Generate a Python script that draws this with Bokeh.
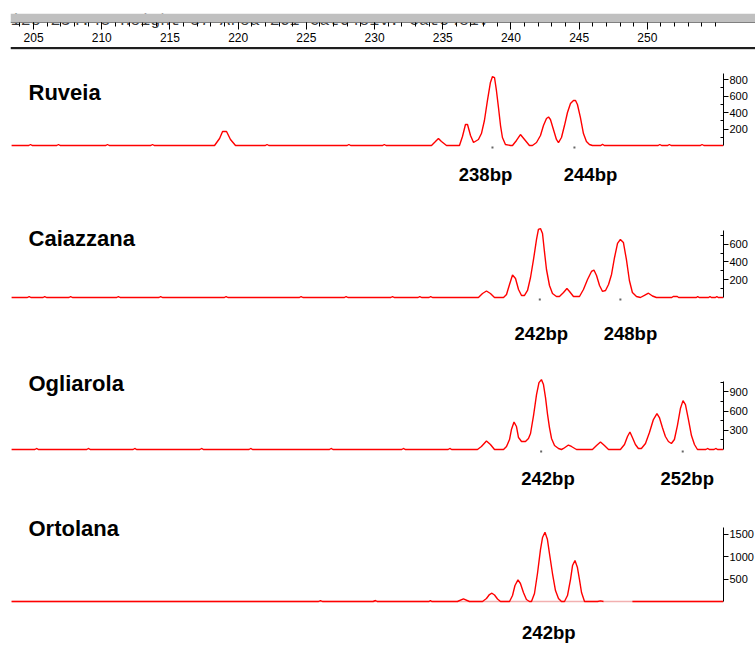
import numpy as np
from bokeh.plotting import figure
from bokeh.models import Range1d, LinearAxis, FixedTicker, Label, Span, BoxAnnotation
from bokeh.layouts import column
from bokeh.embed import file_html
from bokeh.resources import INLINE
from bokeh.core.properties import value

# ---------------------------------------------------------------- data
# fragment size (bp) and signal (RFU) of each electropherogram trace
ruveia_bp = [203.39, 204.65, 204.78, 204.90, 206.70, 206.83, 206.95, 210.30, 210.42, 210.55,
             213.60, 213.72, 213.85, 218.27, 218.64, 218.86, 219.15, 219.44, 219.81,
             222.00, 222.12, 222.25, 228.00, 228.12, 228.25, 230.60, 230.72, 230.85,
             234.18, 234.47, 234.69, 234.91, 235.28,
             236.23, 236.45, 236.67, 236.82, 237.04, 237.26,
             237.62, 237.84, 238.06, 238.28, 238.50, 238.65, 238.80, 238.94, 239.09, 239.24,
             239.38, 239.60, 239.97,
             240.12, 240.41, 240.70, 241.00, 241.36,
             241.58, 241.88, 242.17, 242.39, 242.61, 242.76, 242.90, 243.12, 243.34, 243.49,
             243.71, 243.93, 244.15, 244.37, 244.59, 244.74, 244.88, 245.10, 245.32, 245.54,
             245.76, 245.98,
             246.60, 246.72, 246.85, 250.80, 250.92, 251.05, 251.50, 251.62, 251.75,
             253.90, 254.02, 254.15, 255.59]
ruveia_rfu = [0, 0, 12, 0, 0, 12, 0, 0, 12, 0,
              0, 12, 0, 0, 85, 170, 170, 73, 0,
              0, 12, 0, 0, 12, 0, 0, 12, 0,
              0, 48, 85, 48, 0,
              0, 109, 255, 255, 121, 36,
              73, 145, 303, 545, 764, 836, 824, 667, 461, 242,
              97, 12, 0,
              0, 61, 133, 73, 0,
              0, 36, 121, 242, 327, 345, 315, 194, 73, 36,
              97, 242, 400, 509, 545, 545, 497, 339, 145, 48,
              12, 0,
              0, 15, 0, 0, 12, 0, 0, 12, 0,
              0, 12, 0, 0]

caiazzana_bp = [203.39, 204.55, 204.68, 204.80, 205.70, 205.82, 205.95, 207.60, 207.72, 207.85,
                211.10, 211.22, 211.35, 214.20, 214.32, 214.45, 219.00, 219.12, 219.25,
                224.50, 224.62, 224.75, 227.80, 227.92, 228.05, 231.20, 231.32, 231.45,
                233.20, 233.32, 233.45, 234.00, 234.12, 234.25,
                237.62, 237.92, 238.21, 238.50, 238.80,
                239.46, 239.68, 239.90, 240.12, 240.34, 240.56, 240.78,
                241.00, 241.22, 241.44, 241.66, 241.88, 242.02, 242.17, 242.32, 242.46, 242.61,
                242.83, 243.05, 243.34,
                243.56, 243.86, 244.11, 244.30, 244.59,
                245.03, 245.32, 245.62, 245.91, 246.09, 246.28, 246.50, 246.72,
                246.94, 247.16, 247.38, 247.60, 247.82, 248.03, 248.25, 248.47, 248.69, 248.91,
                249.21, 249.50, 249.79, 250.09, 250.38, 250.67,
                251.80, 251.90, 252.20, 252.30, 253.60, 253.70, 253.80,
                254.50, 254.60, 254.70, 255.00, 255.10, 255.20, 255.59]
caiazzana_rfu = [0, 0, 11, 0, 0, 11, 0, 0, 11, 0,
                 0, 11, 0, 0, 11, 0, 0, 11, 0,
                 0, 11, 0, 0, 11, 0, 0, 11, 0,
                 0, 11, 0, 0, 11, 0,
                 0, 45, 73, 45, 0,
                 0, 34, 146, 253, 214, 90, 23,
                 23, 79, 225, 428, 653, 765, 776, 720, 518, 315,
                 135, 45, 11,
                 11, 56, 101, 68, 11,
                 11, 90, 203, 293, 309, 248, 135, 68,
                 79, 146, 259, 450, 608, 653, 619, 428, 191, 56,
                 11, 0, 23, 48, 17, 0,
                 0, 11, 11, 0, 0, 11, 0,
                 0, 11, 0, 0, 11, 0, 0]

ogliarola_bp = [203.39, 205.10, 205.22, 205.35, 208.90, 209.02, 209.15, 212.30, 212.42, 212.55,
                217.20, 217.32, 217.45, 220.80, 220.92, 221.05, 226.70, 226.82, 226.95,
                232.00, 232.12, 232.25, 235.40, 235.52, 235.65,
                237.55, 237.84, 238.21, 238.50, 238.80,
                239.46, 239.68, 239.90, 240.04, 240.23, 240.41, 240.56, 240.78, 241.07, 241.29,
                241.44, 241.66, 241.88, 242.06, 242.24, 242.39, 242.54, 242.68, 242.83, 242.98,
                243.20, 243.49, 243.71,
                243.86, 244.22, 244.44, 244.81,
                245.98, 246.28, 246.57, 246.86, 247.16,
                248.03, 248.33, 248.55, 248.73, 248.91, 249.13, 249.35,
                249.57, 249.87, 250.16, 250.45, 250.71, 250.89, 251.11, 251.33, 251.55, 251.77,
                251.99, 252.21, 252.43, 252.62, 252.80, 253.02, 253.24, 253.46, 253.68,
                254.30, 254.42, 254.55, 254.90, 255.02, 255.15, 255.59]
ogliarola_rfu = [0, 0, 16, 0, 0, 16, 0, 0, 16, 0,
                 0, 16, 0, 0, 16, 0, 0, 16, 0,
                 0, 16, 0, 0, 16, 0,
                 0, 47, 133, 78, 0,
                 0, 47, 156, 312, 429, 359, 187, 125, 125, 172,
                 250, 530, 858, 1045, 1092, 1014, 811, 562, 343, 172,
                 62, 16, 0,
                 16, 70, 47, 0,
                 0, 62, 117, 62, 0,
                 0, 78, 203, 273, 187, 78, 16,
                 16, 94, 265, 468, 562, 499, 343, 203, 125, 94,
                 156, 374, 640, 764, 702, 468, 218, 78, 0,
                 0, 16, 0, 0, 16, 0, 0]

ortolana_bp = [203.39, 225.90, 226.04, 226.18, 229.90, 230.07, 230.20, 234.00, 234.10, 234.20,
               236.08, 236.52, 236.96,
               237.92, 238.21, 238.43, 238.61, 238.80, 239.02, 239.24,
               239.90, 240.12, 240.30, 240.52, 240.70, 240.92, 241.14, 241.36,
               241.51, 241.73, 241.95, 242.17, 242.32, 242.50, 242.68, 242.83, 243.05, 243.27,
               243.49, 243.71,
               243.93, 244.15, 244.37, 244.52, 244.70, 244.88, 245.03, 245.18, 245.40,
               246.35, 246.57, 246.79, np.nan, 248.91, 255.59]
ortolana_rfu = [0, 0, 22, 0, 0, 22, 0, 0, 22, 0,
                0, 60, 0,
                0, 67, 155, 184, 144, 56, 0,
                0, 133, 355, 482, 400, 200, 44, 0,
                0, 178, 622, 1154, 1421, 1538, 1376, 1066, 622, 244,
                67, 0,
                0, 133, 488, 799, 910, 755, 488, 200, 0,
                0, 15, 0, np.nan, 0, 0]

# called alleles (bp) per cultivar and their size labels
ruveia_alleles = [238.65, 244.66]
caiazzana_alleles = [242.12, 248.03]
ogliarola_alleles = [242.22, 252.60]
ortolana_alleles = [242.50]
ruveia_labels = ["238bp", "244bp"]
caiazzana_labels = ["242bp", "248bp"]
ogliarola_labels = ["242bp", "252bp"]
ortolana_labels = ["242bp"]

# RFU axis ticks per panel
ruveia_ticks = [200, 400, 600, 800]
caiazzana_ticks = [200, 400, 600]
ogliarola_ticks = [300, 600, 900]
ortolana_ticks = [500, 1000, 1500]

# size ruler ticks (bp)
ruler_major = list(range(205, 255, 5))
ruler_minor = list(range(203, 256))
header_text = "Size 234.45   Height 37   Area 261  Cat6481v:  Cat6481v"

# ---------------------------------------------------------------- style
FONT = "Liberation Sans"
RED = "#ff0000"
X_LEFT, X_RIGHT_PANEL, X_RIGHT_RULER = 203.31, 255.59, 257.93
BASE_FROM_TOP = 95  # px from the top of each panel to its baseline


def make_panel(name, bp, rfu, px_per_rfu, frame_h, axis_top, ticks, minor,
               alleles, labels, label_x, name_base, label_base, faint_base=False):
    below = frame_h - BASE_FROM_TOP
    p = figure(frame_width=713, frame_height=frame_h,
               x_range=Range1d(X_LEFT, X_RIGHT_PANEL),
               y_range=Range1d(-below / px_per_rfu, BASE_FROM_TOP / px_per_rfu),
               x_axis_type=None, y_axis_type=None, toolbar_location=None,
               output_backend="svg", min_border_left=10, min_border_right=32,
               min_border_top=0, min_border_bottom=0)
    p.outline_line_color = None
    p.background_fill_color = "white"
    p.border_fill_color = "white"

    if faint_base:
        # pale stretch of the baseline where the signal was not recorded
        p.line([bp[0], bp[-1]], [0, 0], line_color="#f2b0b0", line_width=1.5)
    p.line(np.array(bp, dtype=float), np.array(rfu, dtype=float),
           line_color=RED, line_width=1.4)

    if name != "Ortolana":
        p.scatter(alleles, [-2.0 / px_per_rfu] * len(alleles), marker="square",
                  size=2, fill_color="#666666", line_color=None)

    ax = LinearAxis(bounds=(0, axis_top),
                    ticker=FixedTicker(ticks=ticks, minor_ticks=minor),
                    major_tick_in=0, major_tick_out=5,
                    minor_tick_in=3, minor_tick_out=0,
                    axis_line_color="black", major_tick_line_color="black",
                    minor_tick_line_color="black",
                    major_label_standoff=1,
                    major_label_text_font=FONT,
                    major_label_text_font_size="11px",
                    major_label_text_color="black")
    p.add_layout(ax, "right")

    p.add_layout(Label(x=204.63, y=name_base, x_units="data", y_units="screen",
                       text=name, text_font=FONT, text_font_size="22px",
                       text_font_style="bold", text_color="black",
                       text_align="left", text_baseline="alphabetic"))
    for lx, txt in zip(label_x, labels):
        p.add_layout(Label(x=lx, y=label_base, x_units="data", y_units="screen",
                           text=txt, text_font=FONT, text_font_size="18.5px",
                           text_font_style="bold", text_color="black",
                           text_align="center", text_baseline="alphabetic"))
    return p


# ---------------------------------------------------------------- size ruler
ruler = figure(frame_width=745, frame_height=37,
               x_range=Range1d(X_LEFT, X_RIGHT_RULER), y_range=Range1d(37, 0),
               x_axis_type=None, y_axis_type=None, toolbar_location=None,
               output_backend="svg", min_border_left=10, min_border_right=0,
               min_border_top=13, min_border_bottom=0)
ruler.outline_line_color = None
ruler.add_layout(BoxAnnotation(top=0, bottom=8.5, fill_color="#c0c0c0",
                               fill_alpha=1, line_color=None))
ruler.text(x=[202.60], y=[7.2], text=[header_text],
           text_font=value("Liberation Mono"), text_font_size="16.6px",
           text_color="#383838", text_baseline="alphabetic", text_align="left")
ruler_axis = LinearAxis(fixed_location=9,
                        ticker=FixedTicker(ticks=ruler_major, minor_ticks=ruler_minor),
                        axis_line_color="#808080",
                        major_tick_in=0, major_tick_out=7,
                        minor_tick_in=0, minor_tick_out=4,
                        major_tick_line_color="black", minor_tick_line_color="black",
                        major_label_standoff=3,
                        major_label_text_font=FONT,
                        major_label_text_font_size="12px",
                        major_label_text_color="black")
ruler.add_layout(ruler_axis, "below")
ruler.add_layout(Span(location=34.5, dimension="width", line_color="#1e1e1e", line_width=2))
ruler.add_layout(Span(location=36.5, dimension="width", line_color="#a8a8a8", line_width=1))

# ---------------------------------------------------------------- panels
p1 = make_panel("Ruveia", ruveia_bp, ruveia_rfu, 0.0825, 152, 870,
                ruveia_ticks, [100, 300, 500, 700],
                ruveia_alleles, ruveia_labels, [238.14, 245.84], 110, 28)
p2 = make_panel("Caiazzana", caiazzana_bp, caiazzana_rfu, 0.0889, 152, 757,
                caiazzana_ticks, [100, 300, 500, 700],
                caiazzana_alleles, caiazzana_labels, [242.23, 248.77], 116, 21)
p3 = make_panel("Ogliarola", ogliarola_bp, ogliarola_rfu, 0.064, 152, 1056,
                ogliarola_ticks, [150, 450, 750, 1050],
                ogliarola_alleles, ogliarola_labels, [242.72, 252.93], 123, 28)
p4 = make_panel("Ortolana", ortolana_bp, ortolana_rfu, 0.045, 139, 1650,
                ortolana_ticks, [],
                ortolana_alleles, ortolana_labels, [242.78], 117, 13,
                faint_base=True)

layout = column(ruler, p1, p2, p3, p4, spacing=0)
open("out.html", "w").write(file_html(layout, INLINE))
